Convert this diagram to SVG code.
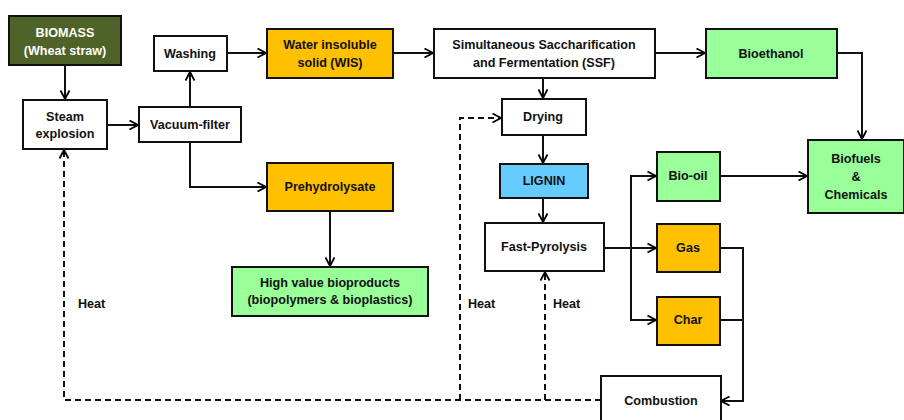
<svg xmlns="http://www.w3.org/2000/svg" width="904" height="420" viewBox="0 0 904 420">
<defs>
<marker id="arr" viewBox="0 0 10 10" refX="9.5" refY="5" markerWidth="10" markerHeight="10" markerUnits="userSpaceOnUse" orient="auto">
<path d="M1,0.5 L9.5,5 L1,9.5" fill="none" stroke="#000" stroke-width="1.8"/>
</marker>
</defs>
<style>
.b{stroke:#111;stroke-width:2}
.w{fill:#fff}
.o{fill:#FFC000}
.g{fill:#99FF99}
.l{fill:#66CCFF}
.d{fill:#4F6228}
text{font-family:"Liberation Sans",Arial,sans-serif;font-weight:bold;font-size:12.6px;fill:#111;text-anchor:middle;dominant-baseline:central}
.wt{fill:#fff}
.c path{fill:none;stroke:#111;stroke-width:2}
.c .ds{stroke-dasharray:6 4}
.h{text-anchor:start}
</style>
<g class="c">
<path d="M65,65 V99" marker-end="url(#arr)"/>
<path d="M107,125 H138" marker-end="url(#arr)"/>
<path d="M190,107 V72" marker-end="url(#arr)"/>
<path d="M227,53 H266" marker-end="url(#arr)"/>
<path d="M393,53 H433" marker-end="url(#arr)"/>
<path d="M655,53 H705" marker-end="url(#arr)"/>
<path d="M837,53 H862 V139" marker-end="url(#arr)"/>
<path d="M190,142 V187 H266" marker-end="url(#arr)"/>
<path d="M330,211 V266" marker-end="url(#arr)"/>
<path d="M543,78 V98" marker-end="url(#arr)"/>
<path d="M543,135 V163" marker-end="url(#arr)"/>
<path d="M543,198 V222" marker-end="url(#arr)"/>
<path d="M604,248 H656" marker-end="url(#arr)"/>
<path d="M656,176 H631 V320 H656" marker-end="url(#arr)"/>
<path d="M631,176 H656" marker-end="url(#arr)"/>
<path d="M720,176 H807" marker-end="url(#arr)"/>
<path d="M720,248 H743 V401 H721" marker-end="url(#arr)"/>
<path d="M720,320 H743"/>
<path class="ds" d="M601,400 H64 V150" marker-end="url(#arr)"/>
<path class="ds" d="M460,400 V118 H501" marker-end="url(#arr)"/>
<path class="ds" d="M545,400 V272" marker-end="url(#arr)"/>
</g>
<g id="biomass"><rect class="b d" x="9" y="16" width="112" height="49"/><text class="wt" x="65" y="33">BIOMASS</text><text class="wt" x="65" y="51">(Wheat straw)</text></g>
<g id="washing"><rect class="b w" x="154" y="36" width="73" height="35"/><text x="190" y="54">Washing</text></g>
<g id="wis"><rect class="b o" x="267" y="29" width="126" height="49"/><text x="330" y="45">Water insoluble</text><text x="330" y="63">solid (WIS)</text></g>
<g id="ssf"><rect class="b w" x="434" y="29" width="221" height="49"/><text x="544" y="45">Simultaneous Saccharification</text><text x="544" y="63">and Fermentation (SSF)</text></g>
<g id="bioethanol"><rect class="b g" x="706" y="29" width="131" height="49"/><text x="771" y="54">Bioethanol</text></g>
<g id="steam"><rect class="b w" x="23" y="100" width="84" height="49"/><text x="65" y="117">Steam</text><text x="65" y="134">explosion</text></g>
<g id="vacuum"><rect class="b w" x="139" y="107" width="102" height="35"/><text x="190" y="125">Vacuum-filter</text></g>
<g id="drying"><rect class="b w" x="502" y="99" width="84" height="36"/><text x="543" y="117">Drying</text></g>
<g id="prehydrolysate"><rect class="b o" x="267" y="163" width="126" height="48"/><text x="330" y="187">Prehydrolysate</text></g>
<g id="lignin"><rect class="b l" x="500" y="164" width="88" height="34"/><text x="544" y="181">LIGNIN</text></g>
<g id="biofuels"><rect class="b g" x="808" y="140" width="96" height="73"/><text x="856" y="159">Biofuels</text><text x="856" y="177">&amp;</text><text x="856" y="195">Chemicals</text></g>
<g id="biooil"><rect class="b g" x="657" y="152" width="63" height="49"/><text x="688" y="176">Bio-oil</text></g>
<g id="pyrolysis"><rect class="b w" x="485" y="223" width="119" height="48"/><text x="544" y="247">Fast-Pyrolysis</text></g>
<g id="gas"><rect class="b o" x="657" y="224" width="63" height="48"/><text x="688" y="248">Gas</text></g>
<g id="char"><rect class="b o" x="657" y="297" width="63" height="48"/><text x="688" y="320">Char</text></g>
<g id="highvalue"><rect class="b g" x="232" y="267" width="196" height="49"/><text x="330" y="283">High value bioproducts</text><text x="330" y="300">(biopolymers &amp; bioplastics)</text></g>
<g id="combustion"><rect class="b w" x="601" y="376" width="120" height="50"/><text x="661" y="401">Combustion</text></g>
<g id="labels"><text class="h" x="78" y="304">Heat</text><text class="h" x="468" y="304">Heat</text><text class="h" x="553" y="304">Heat</text></g>
</svg>
